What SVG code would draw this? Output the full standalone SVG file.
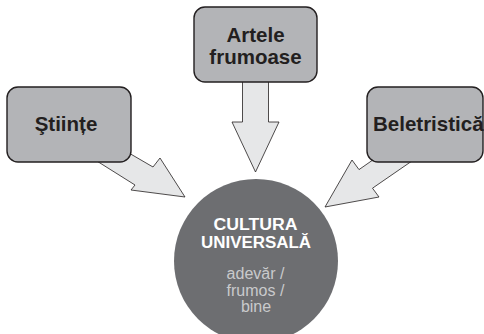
<svg xmlns="http://www.w3.org/2000/svg" width="484" height="334" viewBox="0 0 484 334">
<style>
.arrow{fill:#e6e7e8;stroke:#231f20;stroke-width:0.8;stroke-linejoin:miter}
.box{fill:#b3b4b7;stroke:#231f20;stroke-width:1.4}
.lbl{font-family:"Liberation Sans",Arial,sans-serif;font-weight:bold;font-size:20.5px;fill:#231f20}
.title{font-family:"Liberation Sans",Arial,sans-serif;font-weight:bold;font-size:16px;fill:#ffffff}
.sub{font-family:"Liberation Sans",Arial,sans-serif;font-size:16px;fill:#c9cacc}
</style>
<rect width="484" height="334" fill="#ffffff"/>
<g id="connectors">
<polygon class="arrow" points="242.5,70 268.5,70 268.5,122 279,122 255.5,172 232,122 242.5,122"/>
<polygon class="arrow" points="110,142 153,167 160,158 185,197 131,190 135,185 85,153.6"/>
<polygon class="arrow" points="390,148 359,169.6 352,160 325,207 379,197 372.5,188.2 425,152"/>
</g>
<g id="node-artele">
<rect class="box" x="194" y="7" width="123" height="75" rx="11"/>
<text class="lbl" x="255.5" y="42" text-anchor="middle">Artele</text>
<text class="lbl" x="255.5" y="64" text-anchor="middle">frumoase</text>
</g>
<g id="node-stiinte">
<rect class="box" x="7" y="87" width="124" height="75" rx="11"/>
<text class="lbl" x="66" y="131" text-anchor="middle">Ştiințe</text>
</g>
<g id="node-beletristica">
<rect class="box" x="367" y="87" width="116" height="75" rx="11"/>
<text class="lbl" x="373" y="131">Beletristică</text>
</g>
<g id="node-cultura">
<circle cx="256" cy="261" r="82" fill="#6d6e71"/>
<text class="title" x="255.5" y="230" text-anchor="middle" textLength="84" lengthAdjust="spacingAndGlyphs">CULTURA</text>
<text class="title" x="256" y="248" text-anchor="middle" textLength="110" lengthAdjust="spacingAndGlyphs">UNIVERSALĂ</text>
<text class="sub" x="255.5" y="279" text-anchor="middle">adevăr /</text>
<text class="sub" x="255.5" y="296" text-anchor="middle">frumos /</text>
<text class="sub" x="256" y="312" text-anchor="middle">bine</text>
</g>
</svg>
